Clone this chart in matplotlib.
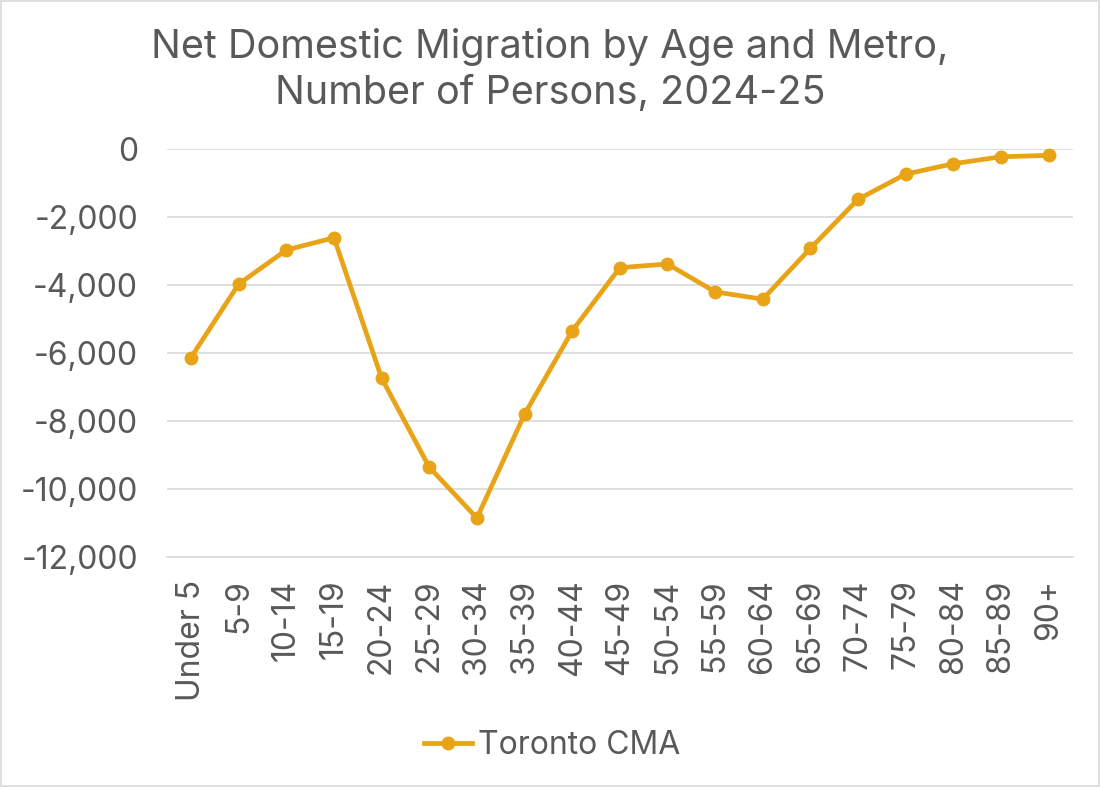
import matplotlib
matplotlib.use('Agg')
import matplotlib.pyplot as plt
from matplotlib.patches import Rectangle

# 年齢区分とネット国内移動（人）
age_groups = ['Under 5', '5-9', '10-14', '15-19', '20-24', '25-29', '30-34',
              '35-39', '40-44', '45-49', '50-54', '55-59', '60-64', '65-69',
              '70-74', '75-79', '80-84', '85-89', '90+']
toronto_cma = [-6135, -3975, -2975, -2615, -6740, -9355, -10850,
               -7800, -5350, -3495, -3385, -4205, -4420, -2925,
               -1485, -745, -440, -235, -195]
y_ticks = [0, -2000, -4000, -6000, -8000, -10000, -12000]

LINE_COLOR = '#E8A317'
TEXT_COLOR = '#595959'
GRID_COLOR = '#D9D9D9'

plt.rcParams['font.family'] = ['Inter', 'DejaVu Sans']

fig = plt.figure(figsize=(11, 7.87), dpi=100)
ax = fig.add_axes([0.152, 0.292, 0.823, 0.519])

x = list(range(len(age_groups)))
ax.plot(x, toronto_cma, color=LINE_COLOR, linewidth=3.4, marker='o',
        markersize=9, label='Toronto CMA', zorder=3, clip_on=False)

ax.set_xlim(-0.5, len(age_groups) - 0.5)
ax.set_ylim(-12000, 0)
ax.set_yticks(y_ticks)
ax.set_yticklabels([f'{v:,}' for v in y_ticks])
ax.set_xticks(x)
ax.set_xticklabels(age_groups, rotation=90)
ax.tick_params(axis='both', length=0, labelsize=23, colors=TEXT_COLOR)
ax.tick_params(axis='y', pad=21)
ax.tick_params(axis='x', pad=16)

ax.grid(True, axis='y', color=GRID_COLOR, linewidth=1.2)
ax.set_axisbelow(True)
for side in ['top', 'right', 'left']:
    ax.spines[side].set_visible(False)
ax.spines['bottom'].set_color(GRID_COLOR)
ax.spines['bottom'].set_linewidth(1.2)

fig.text(0.5, 0.911, 'Net Domestic Migration by Age and Metro,\nNumber of Persons, 2024-25',
         ha='center', va='center', fontsize=28.5, color=TEXT_COLOR, linespacing=1.3)

leg = fig.legend(loc='center', bbox_to_anchor=(0.502, 0.053), frameon=False,
                 fontsize=23, handlelength=1.5, handletextpad=0.2)
for t in leg.get_texts():
    t.set_color(TEXT_COLOR)

fig.patches.append(Rectangle((0.001, 0.001), 0.998, 0.998, transform=fig.transFigure,
                             fill=False, edgecolor='#D9D9D9', linewidth=1.2))

fig.savefig('out.png', dpi=100)
